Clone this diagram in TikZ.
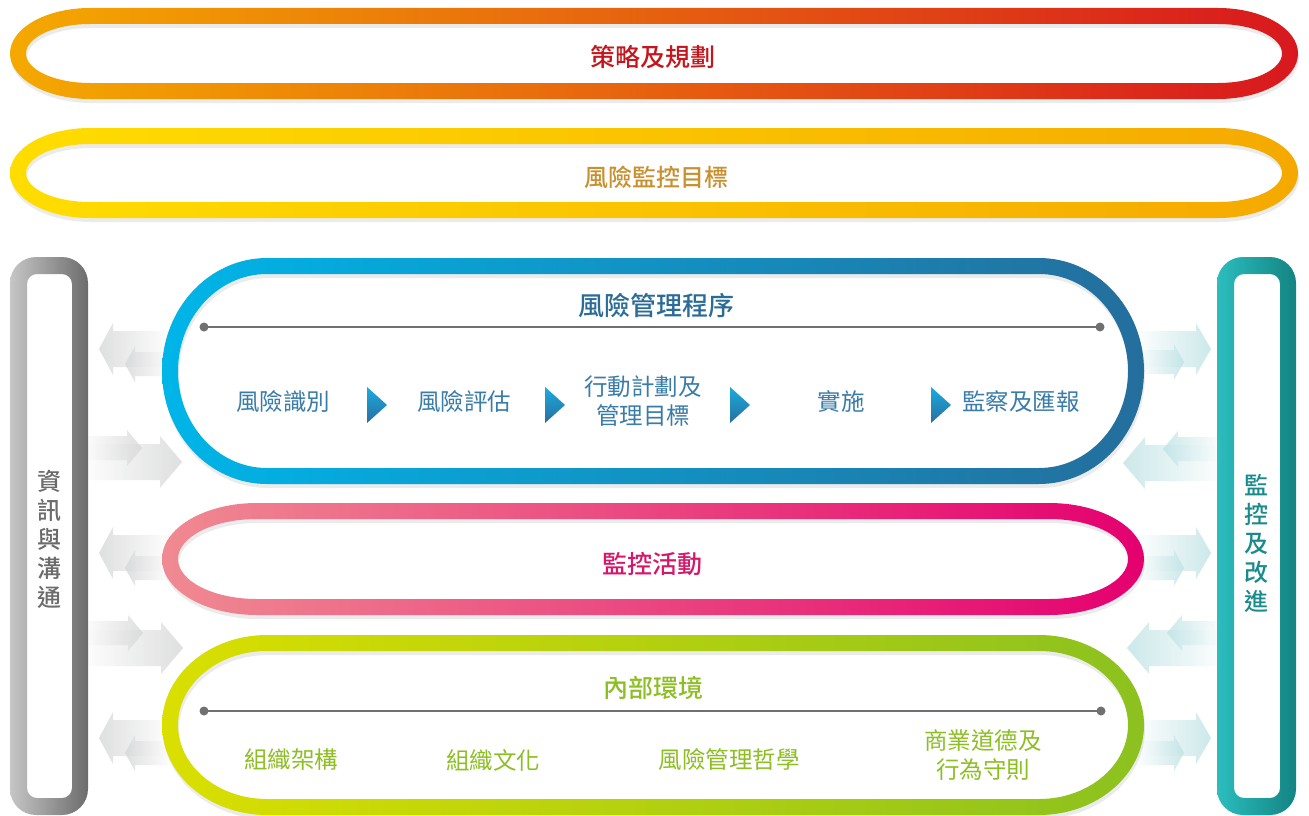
\documentclass[tikz,border=0pt]{standalone}
\usepackage{fontspec}
\newfontfamily\cjk{Noto Sans CJK TC}
\newfontfamily\cjkmed{Noto Sans CJK TC}[UprightFont={* Medium}]
\definecolor{oA}{HTML}{F4A900}
\definecolor{oM}{HTML}{EA7E0C}
\definecolor{oB}{HTML}{D8181E}
\definecolor{yA}{HTML}{FFDD00}
\definecolor{yM}{HTML}{FDCC00}
\definecolor{yB}{HTML}{F5A900}
\definecolor{bA}{HTML}{00B5E8}
\definecolor{bB}{HTML}{246E9C}
\definecolor{pA}{HTML}{F08A91}
\definecolor{pB}{HTML}{E4006F}
\definecolor{gA}{HTML}{DADF00}
\definecolor{gB}{HTML}{8CC11F}
\definecolor{grA}{HTML}{C6C6C6}
\definecolor{grB}{HTML}{6C6C6C}
\definecolor{tA}{HTML}{2CBDBE}
\definecolor{tB}{HTML}{128483}
\definecolor{txtRed}{HTML}{C4161C}
\definecolor{txtGold}{HTML}{C8902F}
\definecolor{txtBlue}{HTML}{2B6C97}
\definecolor{txtBlueL}{HTML}{3A7CA8}
\definecolor{txtPink}{HTML}{D6186A}
\definecolor{txtGreen}{HTML}{8DBE24}
\definecolor{txtGray}{HTML}{6B6B6B}
\definecolor{txtTeal}{HTML}{1A8B8C}
\definecolor{arrGray}{HTML}{D4D5D6}
\definecolor{arrTeal}{HTML}{BCE1E3}
\definecolor{triA}{HTML}{1AACDF}
\definecolor{triB}{HTML}{2A6E9F}
\definecolor{lineGray}{HTML}{707070}
% stadium outline with elliptical ends: x1 x2 ytop ybot rx
\newcommand\stad[5]{({#1+#5},#3) -- ({#2-#5},#3) arc[start angle=-90,end angle=90,x radius=#5,y radius={(#4-#3)/2}] -- ({#1+#5},#4) arc[start angle=90,end angle=270,x radius=#5,y radius={(#4-#3)/2}] -- cycle}
% left-pointing arrow: tipx tipy headhalf headlen shafthalf tailx colour
\newcommand\larrow[7]{\shade[left color=#7, right color=white, fill opacity=0.75] (#1,#2) -- ({#1+#4},{#2-#3}) -- ({#1+#4},{#2-#5}) -- (#6,{#2-#5}) -- (#6,{#2+#5}) -- ({#1+#4},{#2+#5}) -- ({#1+#4},{#2+#3}) -- cycle;}
\newcommand\rarrow[7]{\shade[left color=white, right color=#7, fill opacity=0.75] (#1,#2) -- ({#1-#4},{#2-#3}) -- ({#1-#4},{#2-#5}) -- (#6,{#2-#5}) -- (#6,{#2+#5}) -- ({#1-#4},{#2+#5}) -- ({#1-#4},{#2+#3}) -- cycle;}
\newcommand\steptri[1]{\shade[top color=triA, bottom color=triB] (#1,387) -- ({#1+20},405) -- (#1,423) -- cycle;}
\begin{document}
\begin{tikzpicture}[x=1pt,y=-1pt,
  title/.style={font=\cjkmed\fontsize{25}{28}\selectfont, inner sep=0},
  item/.style={font=\cjk\fontsize{23.5}{29}\selectfont, align=center, inner sep=0},
  vtext/.style={font=\cjkmed\fontsize{24}{29}\selectfont, align=center, inner sep=0},
  procline/.style={draw=lineGray, line width=2.6pt},
  dot/.style={fill=lineGray},
  shadow/.style={fill=black, fill opacity=0.08, even odd rule}]
\useasboundingbox (0,0) rectangle (1309,816);
\fill[white] (0,0) rectangle (1309,816);

% ---------- faded arrows, left side ----------
\larrow{99}{349}{26}{14}{18}{172}{arrGray}
\larrow{125}{364}{18}{10}{12}{172}{arrGray}
\rarrow{182}{462}{26}{22}{18}{80}{arrGray}
\rarrow{142}{448}{18}{15}{12}{80}{arrGray}
\larrow{99}{553}{26}{14}{18}{172}{arrGray}
\larrow{125}{568}{18}{10}{12}{172}{arrGray}
\rarrow{183}{648}{26}{22}{18}{80}{arrGray}
\rarrow{143}{633}{18}{15}{12}{80}{arrGray}
\larrow{99}{738}{26}{14}{18}{172}{arrGray}
\larrow{125}{753}{18}{10}{12}{172}{arrGray}
% ---------- faded arrows, right side ----------
\rarrow{1211}{349}{26}{15}{18}{1135}{arrTeal}
\rarrow{1184}{362}{18}{10}{12}{1135}{arrTeal}
\larrow{1123}{463}{26}{22}{18}{1225}{arrTeal}
\larrow{1163}{449}{18}{15}{12}{1225}{arrTeal}
\rarrow{1211}{553}{26}{15}{18}{1135}{arrTeal}
\rarrow{1184}{568}{18}{10}{12}{1135}{arrTeal}
\larrow{1127}{648}{26}{22}{18}{1225}{arrTeal}
\larrow{1167}{633}{18}{15}{12}{1225}{arrTeal}
\rarrow{1211}{738}{26}{15}{18}{1135}{arrTeal}
\rarrow{1184}{753}{18}{10}{12}{1135}{arrTeal}

% ---------- soft shadows ----------
\begin{scope}[shift={(1,4)}]
\fill[shadow] \stad{10}{1298}{8}{99}{80} \stad{26}{1282}{24}{83}{64};
\fill[shadow] \stad{10}{1298}{128}{218}{80} \stad{26}{1282}{144}{202}{64};
\fill[shadow] \stad{162}{1144}{258}{484}{105} \stad{178}{1128}{274}{468}{89};
\fill[shadow] \stad{162}{1144}{503}{615}{95} \stad{178}{1128}{519}{599}{79};
\fill[shadow] \stad{162}{1144}{635}{815}{105} \stad{178}{1128}{651}{799}{89};
\end{scope}

% ---------- top rings ----------
\shade[even odd rule, left color=oA, middle color=oM, right color=oB]
  \stad{10}{1298}{8}{99}{80} \stad{26}{1282}{24}{83}{64};
\shade[even odd rule, left color=yA, middle color=yM, right color=yB]
  \stad{10}{1298}{128}{218}{80} \stad{26}{1282}{144}{202}{64};

% ---------- side bars ----------
\shade[even odd rule, left color=grA, right color=grB]
  [rounded corners=26] (10,257) rectangle (88,815)
  [rounded corners=10] (27,274) rectangle (72,798);
\shade[even odd rule, left color=tA, right color=tB]
  [rounded corners=26] (1217,257) rectangle (1296,815)
  [rounded corners=10] (1234,274) rectangle (1280,798);

% ---------- process rings ----------
\shade[even odd rule, left color=bA, right color=bB]
  \stad{162}{1144}{258}{484}{105} \stad{178}{1128}{274}{468}{89};
\shade[even odd rule, left color=pA, right color=pB]
  \stad{162}{1144}{503}{615}{95} \stad{178}{1128}{519}{599}{79};
\shade[even odd rule, left color=gA, right color=gB]
  \stad{162}{1144}{635}{815}{105} \stad{178}{1128}{651}{799}{89};

% ---------- titles ----------
\node[title, text=txtRed] (strategy) at (653,57) {策略及規劃};
\node[title, text=txtGold, font=\cjkmed\fontsize{24}{28}\selectfont] (target) at (656,177) {風險監控目標};
\node[title, text=txtBlue, font=\cjkmed\fontsize{26}{28}\selectfont] (process) at (656,306) {風險管理程序};
\node[title, text=txtPink] (monitor) at (652,564) {監控活動};
\node[title, text=txtGreen] (internal) at (653,688) {內部環境};

% ---------- side texts ----------
\node[vtext, text=txtGray] (info) at (49,539) {資\\訊\\與\\溝\\通};
\node[vtext, text=txtTeal] (improve) at (1256,543) {監\\控\\及\\改\\進};

% ---------- process line ----------
\coordinate (pl1) at (204,327);
\coordinate (pl2) at (1100,327);
\draw[procline] (pl1) -- (pl2);
\fill[dot] (pl1) circle (4.5);
\fill[dot] (pl2) circle (4.5);

% ---------- process steps ----------
\node[item, text=txtBlueL] (s1) at (283,402) {風險識別};
\node[item, text=txtBlueL] (s2) at (464,402) {風險評估};
\node[item, text=txtBlueL] (s3) at (643,401) {行動計劃及\\管理目標};
\node[item, text=txtBlueL] (s4) at (841,402) {實施};
\node[item, text=txtBlueL] (s5) at (1021,402) {監察及匯報};
\steptri{367}
\steptri{545}
\steptri{730}
\steptri{931}

% ---------- internal environment line ----------
\coordinate (il1) at (204,711);
\coordinate (il2) at (1101,711);
\draw[procline] (il1) -- (il2);
\fill[dot] (il1) circle (4.5);
\fill[dot] (il2) circle (4.5);

\node[item, text=txtGreen] (e1) at (291,760) {組織架構};
\node[item, text=txtGreen] (e2) at (493,760) {組織文化};
\node[item, text=txtGreen] (e3) at (729,760) {風險管理哲學};
\node[item, text=txtGreen] (e4) at (983,755) {商業道德及\\行為守則};
\end{tikzpicture}
\end{document}
